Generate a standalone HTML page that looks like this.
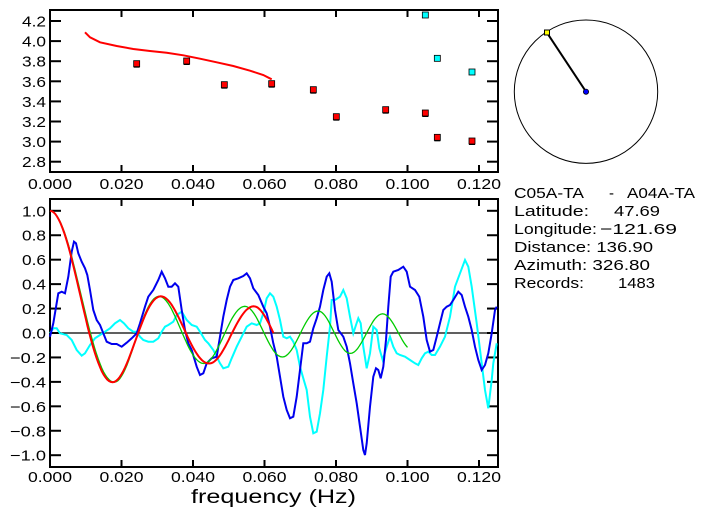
<!DOCTYPE html>
<html><head><meta charset="utf-8"><style>
body{margin:0;background:#fff}
svg{display:block}
text{font-family:"Liberation Sans",sans-serif;font-size:15px;fill:#000}
</style></head><body>
<svg id="s" width="703" height="519" viewBox="0 0 703 519" xmlns="http://www.w3.org/2000/svg">
<rect width="703" height="519" fill="#fff"/>
<g id="g"></g>
<circle cx="586" cy="91.7" r="71.7" fill="none" stroke="#000" stroke-width="1"/>
<line x1="546.7" y1="32.3" x2="586" y2="91.7" stroke="#000" stroke-width="2"/>
<rect x="544.5" y="30" width="5" height="5" fill="#ff0" stroke="#000" stroke-width="1"/>
<circle cx="586" cy="91.7" r="2.6" fill="#00f" stroke="#000" stroke-width="0.8"/>
<text x="514" y="198" textLength="70" lengthAdjust="spacingAndGlyphs">C05A-TA</text>
<text x="609" y="198">-</text>
<text x="627" y="198" textLength="68" lengthAdjust="spacingAndGlyphs">A04A-TA</text>
<text x="514" y="216" textLength="75" lengthAdjust="spacingAndGlyphs">Latitude:</text><text x="614" y="216" textLength="46" lengthAdjust="spacingAndGlyphs">47.69</text>
<text x="514" y="234" textLength="83" lengthAdjust="spacingAndGlyphs">Longitude:</text><text x="600" y="234" textLength="77" lengthAdjust="spacingAndGlyphs">−121.69</text>
<text x="514" y="252" textLength="139" lengthAdjust="spacingAndGlyphs">Distance: 136.90</text>
<text x="514" y="270" textLength="136" lengthAdjust="spacingAndGlyphs">Azimuth: 326.80</text>
<text x="514" y="288" textLength="70" lengthAdjust="spacingAndGlyphs">Records:</text><text x="618" y="288" textLength="37" lengthAdjust="spacingAndGlyphs">1483</text>
<text x="191" y="503" textLength="165" lengthAdjust="spacingAndGlyphs" style="font-size:19px">frequency  (Hz)</text>
</svg>
<script>
var g=document.getElementById('g'),h='';
function X(f){return 50+f*3575;}
h+='<rect x="50" y="10" width="448" height="162" fill="none" stroke="#000" stroke-width="2"/>';
h+='<rect x="50" y="199" width="448" height="268" fill="none" stroke="#000" stroke-width="2"/>';
function Yt(v){return 21+(4.2-v)*100.5;}
function Yb(v){return 333-v*122.2;}
for(var i=0;i<=6;i++){var x=X(i*0.02),lab=(i*0.02).toFixed(3);
 h+='<line x1="'+x+'" y1="10" x2="'+x+'" y2="17" stroke="#000" stroke-width="2"/>';
 h+='<line x1="'+x+'" y1="165" x2="'+x+'" y2="172" stroke="#000" stroke-width="2"/>';
 h+='<text x="'+(x-22)+'" y="189" textLength="44" lengthAdjust="spacingAndGlyphs">'+lab+'</text>';
 h+='<line x1="'+x+'" y1="199" x2="'+x+'" y2="206" stroke="#000" stroke-width="2"/>';
 h+='<line x1="'+x+'" y1="460" x2="'+x+'" y2="467" stroke="#000" stroke-width="2"/>';
 h+='<text x="'+(x-22)+'" y="482" textLength="44" lengthAdjust="spacingAndGlyphs">'+lab+'</text>';}
for(var v=2.8;v<4.25;v+=0.2){var y=Yt(v);
 h+='<line x1="50" y1="'+y+'" x2="61" y2="'+y+'" stroke="#000" stroke-width="2"/><line x1="487" y1="'+y+'" x2="498" y2="'+y+'" stroke="#000" stroke-width="2"/>';
 h+='<text x="22" y="'+(y+5.5)+'" textLength="24" lengthAdjust="spacingAndGlyphs">'+v.toFixed(1)+'</text>';}
for(var k=-5;k<=5;k++){var v=k*0.2,y=Yb(v);
 h+='<line x1="50" y1="'+y+'" x2="61" y2="'+y+'" stroke="#000" stroke-width="2"/><line x1="487" y1="'+y+'" x2="498" y2="'+y+'" stroke="#000" stroke-width="2"/>';
 if(v<0) h+='<text x="10" y="'+(y+5.5)+'" textLength="36" lengthAdjust="spacingAndGlyphs">−'+Math.abs(v).toFixed(1)+'</text>';
 else h+='<text x="22" y="'+(y+5.5)+'" textLength="24" lengthAdjust="spacingAndGlyphs">'+v.toFixed(1)+'</text>';}
h+='<line x1="50" y1="333" x2="498" y2="333" stroke="#000" stroke-width="1.2"/>';
function zp(a){var s='';for(var i=0;i<a.length;i+=2)s+=(a[i]/3).toFixed(1)+','+(190+a[i+1]/3).toFixed(1)+' ';return s;}
var blue=[150,440,160,400,175,310,185,305,195,310,205,260,215,185,222,155,228,160,235,190,245,215,255,235,262,255,270,300,280,360,290,390,300,405,310,430,320,455,335,462,350,462,365,470,380,458,395,445,410,430,420,400,435,350,445,320,460,300,475,270,485,245,495,265,505,290,515,290,525,280,535,290,545,360,555,420,565,460,575,480,590,530,600,555,610,550,620,520,635,505,650,500,660,440,670,380,680,330,690,290,700,270,715,265,730,258,740,250,750,265,760,295,775,315,790,350,800,370,810,410,820,460,830,500,840,560,850,620,860,660,870,685,880,680,890,620,900,540,910,460,920,460,930,455,940,415,950,385,960,350,970,300,980,260,988,250,995,275,1005,360,1015,420,1030,440,1040,470,1050,520,1060,580,1070,640,1080,710,1090,780,1095,795,1100,760,1110,650,1120,560,1128,535,1135,540,1142,565,1150,530,1158,450,1165,350,1172,260,1180,245,1195,240,1210,230,1220,245,1230,290,1245,300,1258,320,1270,380,1280,450,1290,485,1300,480,1310,440,1320,400,1330,360,1340,350,1350,345,1360,330,1375,305,1385,315,1395,350,1405,380,1415,420,1425,470,1435,510,1445,540,1455,525,1465,490,1475,430,1485,360,1490,350];
var cyan=[150,430,160,415,170,415,180,430,200,435,215,450,230,480,245,497,255,490,270,465,285,445,300,435,315,425,330,415,345,400,360,390,372,400,385,415,400,425,410,425,420,440,430,450,445,455,460,455,475,445,485,425,495,410,505,405,520,395,530,375,545,365,560,390,575,405,590,410,600,425,615,450,625,460,640,480,650,500,660,520,670,535,685,530,695,505,710,470,725,440,740,410,755,400,770,405,780,400,790,370,800,325,810,310,820,320,830,350,840,390,850,440,860,445,870,440,880,455,890,480,900,530,910,565,920,600,930,680,940,730,950,725,960,670,970,600,980,500,990,410,995,330,1005,330,1020,320,1030,300,1040,325,1050,380,1060,430,1068,405,1075,385,1082,400,1090,470,1100,535,1110,490,1120,410,1130,420,1138,475,1148,510,1160,470,1170,440,1180,470,1190,490,1200,495,1215,500,1230,510,1245,520,1255,525,1265,505,1275,490,1285,485,1295,495,1305,495,1320,470,1335,440,1350,380,1365,290,1380,250,1395,210,1405,230,1415,290,1430,400,1445,520,1455,600,1465,655,1475,570,1480,520,1490,460];
function J0(x){var s=0,t=1;for(var k=0;k<60;k++){if(k>0)t*=-(x*x/4)/(k*k);s+=t;}return s;}
function interp(c,f){for(var i=0;i<c.length-2;i+=2){if(f<=c[i+2])return c[i+1]+(f-c[i])/(c[i+2]-c[i])*(c[i+3]-c[i+1]);}return c[c.length-1];}
function bes(c,fmax){var s='';for(var f=0;f<=fmax+1e-9;f+=0.0005){s+=X(f).toFixed(1)+','+Yb(J0(interp(c,f))).toFixed(1)+' ';}return s;}
var gc=[0,0,0.018,3.83,0.0305,7.016,0.043,10.17,0.0545,13.32,0.065,16.47,0.075,19.62,0.084,22.76,0.093,25.9,0.1,28.4];
var rc=[0,0,0.0175,3.83,0.031,7.016,0.0445,10.17,0.057,13.32,0.0625,14.93];
h+='<polyline points="'+zp(cyan)+'" fill="none" stroke="#0ff" stroke-width="2"/>';
h+='<polyline points="'+zp(blue)+'" fill="none" stroke="#00e" stroke-width="2"/>';
h+='<polyline points="'+bes(gc,0.1)+'" fill="none" stroke="#0c0" stroke-width="1.3"/>';
h+='<polyline points="'+bes(rc,0.0625)+'" fill="none" stroke="#f00" stroke-width="2"/>';
var tr=[255,97,270,112,300,127,350,138,400,147,450,153,500,158,550,166,600,176,650,187,700,198,750,212,790,225,815,238];
var s='';for(var i=0;i<tr.length;i+=2)s+=(tr[i]/3).toFixed(1)+','+(tr[i+1]/3).toFixed(1)+' ';
h+='<polyline points="'+s+'" fill="none" stroke="#f00" stroke-width="2"/>';
var rs=[410,191,560,183,673,254,815,251,940,269,1009,350,1157,329,1276,339,1312,412,1416,423];
for(var i=0;i<rs.length;i+=2){var x=rs[i]/3,y=rs[i+1]/3;h+='<line x1="'+(x-3)+'" y1="'+(y+3.5)+'" x2="'+(x+3)+'" y2="'+(y+3.5)+'" stroke="#000"/><rect x="'+(x-3)+'" y="'+(y-3)+'" width="6" height="6" fill="#f00" stroke="#000" stroke-width="0.8"/>';}
var cs=[1276,45,1312,175,1416,216];
for(var i=0;i<cs.length;i+=2){var x=cs[i]/3,y=cs[i+1]/3;h+='<rect x="'+(x-3)+'" y="'+(y-3)+'" width="6" height="6" fill="#0ff" stroke="#000" stroke-width="0.8"/>';}
g.innerHTML=h;
</script>
</body></html>
